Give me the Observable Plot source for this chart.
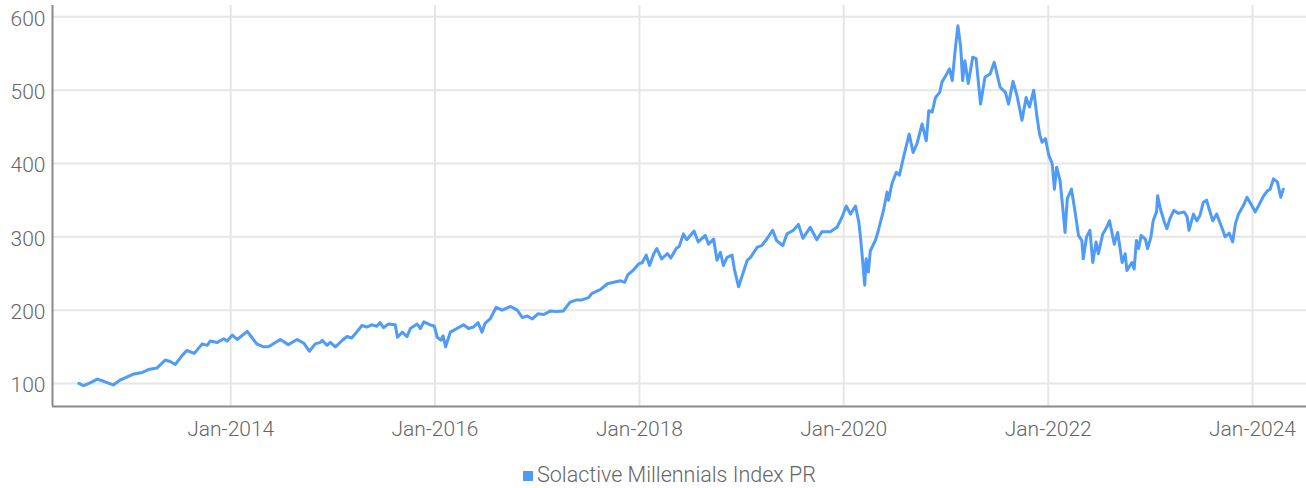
<!DOCTYPE html>
<html>
<head>
<meta charset="utf-8">
<script src="https://cdn.jsdelivr.net/npm/d3@7"></script>
<script src="https://cdn.jsdelivr.net/npm/@observablehq/plot@0.6"></script>
<style>
  html, body { margin: 0; padding: 0; background: #fff; }
  #wrap { position: relative; width: 1306px; height: 488px; font-family: Roboto, "Noto Sans", sans-serif; }
  #chart svg text { font-weight: 300; fill: #666; }
  #legend { position: absolute; left: 523px; top: 462px; display: flex; align-items: center; font-size: 21.5px; font-weight: 300; color: #666; white-space: nowrap; }
  #legend .sw { width: 10px; height: 10px; background: #4f9bf7; margin-right: 4px; margin-top: 2px; }
</style>
</head>
<body>
<div id="wrap">
  <div id="chart"></div>
  <div id="legend"><span class="sw"></span><span>Solactive Millennials Index PR</span></div>
</div>
<script>
const seriesName = "Solactive Millennials Index PR";
const yTicks = [100, 200, 300, 400, 500, 600];
const xTicks = ["2014-01-01", "2016-01-01", "2018-01-01", "2020-01-01", "2022-01-01", "2024-01-01"];
const xDomain = ["2012-04-04", "2024-07-12"];
const yDomain = [68.6, 615.5];

const dates = [
"2012-07-07","2012-07-24","2012-08-12","2012-09-11","2012-10-04","2012-11-07","2012-12-03","2012-12-21",
"2013-01-20","2013-02-19","2013-03-13","2013-04-12","2013-05-12","2013-05-29","2013-06-17","2013-07-11",
"2013-07-28","2013-08-24","2013-09-21","2013-10-09","2013-10-20","2013-11-14","2013-12-07","2013-12-19",
"2014-01-07","2014-01-24","2014-03-01","2014-03-17","2014-04-04","2014-04-28","2014-05-16","2014-06-27",
"2014-07-26","2014-08-26","2014-09-19","2014-10-09","2014-10-30","2014-11-18","2014-11-24","2014-12-11",
"2014-12-23","2015-01-10","2015-02-04","2015-02-21","2015-03-09","2015-03-27","2015-04-15","2015-05-02",
"2015-05-20","2015-06-07","2015-06-19","2015-07-01","2015-07-18","2015-08-12","2015-08-20","2015-09-06",
"2015-09-23","2015-10-05","2015-10-29","2015-11-10","2015-11-22","2015-12-15","2015-12-30","2016-01-09",
"2016-01-23","2016-01-30","2016-02-08","2016-02-25","2016-03-19","2016-04-12","2016-04-30","2016-05-18",
"2016-06-03","2016-06-17","2016-06-28","2016-07-16","2016-08-07","2016-08-28","2016-09-27","2016-10-21",
"2016-11-08","2016-11-26","2016-12-14","2017-01-03","2017-01-24","2017-02-17","2017-03-11","2017-04-04",
"2017-04-28","2017-05-22","2017-06-09","2017-07-03","2017-07-15","2017-08-14","2017-09-08","2017-10-01",
"2017-10-25","2017-11-09","2017-11-20","2017-12-11","2017-12-29","2018-01-11","2018-01-25","2018-02-06",
"2018-02-21","2018-03-04","2018-03-21","2018-04-11","2018-04-23","2018-05-12","2018-05-23","2018-06-07",
"2018-06-19","2018-07-15","2018-07-30","2018-08-24","2018-09-05","2018-09-23","2018-10-05","2018-10-17",
"2018-10-28","2018-11-10","2018-11-28","2018-12-06","2018-12-21","2019-01-03","2019-01-21","2019-02-02",
"2019-02-26","2019-03-14","2019-04-01","2019-04-22","2019-05-06","2019-05-28","2019-06-12","2019-07-05",
"2019-07-23","2019-08-08","2019-09-03","2019-09-27","2019-10-15","2019-11-14","2019-12-08","2019-12-26",
"2020-01-10","2020-01-25","2020-02-12","2020-02-24","2020-03-02","2020-03-09","2020-03-16","2020-03-21",
"2020-03-29","2020-04-05","2020-04-23","2020-05-04","2020-05-22","2020-06-04","2020-06-09","2020-06-21",
"2020-07-07","2020-07-18","2020-08-02","2020-08-22","2020-09-05","2020-09-19","2020-10-07","2020-10-22",
"2020-10-31","2020-11-12","2020-11-24","2020-12-09","2020-12-17","2021-01-03","2021-01-13","2021-01-23",
"2021-02-01","2021-02-12","2021-02-22","2021-03-01","2021-03-09","2021-03-21","2021-04-06","2021-04-18",
"2021-05-04","2021-05-20","2021-06-07","2021-06-22","2021-07-13","2021-08-01","2021-08-12","2021-08-28",
"2021-09-11","2021-09-29","2021-10-14","2021-10-26","2021-11-10","2021-11-22","2021-12-01","2021-12-10",
"2021-12-22","2022-01-03","2022-01-15","2022-01-23","2022-01-31","2022-02-12","2022-02-20","2022-03-02",
"2022-03-10","2022-03-25","2022-04-07","2022-04-19","2022-05-01","2022-05-06","2022-05-18","2022-05-30",
"2022-06-09","2022-06-21","2022-06-29","2022-07-15","2022-07-29","2022-08-08","2022-08-25","2022-09-06",
"2022-09-16","2022-09-22","2022-10-03","2022-10-09","2022-10-27","2022-11-04","2022-11-12","2022-11-20",
"2022-11-29","2022-12-14","2022-12-22","2023-01-03","2023-01-11","2023-01-23","2023-01-27","2023-02-06",
"2023-02-20","2023-03-01","2023-03-12","2023-03-26","2023-04-11","2023-05-01","2023-05-12","2023-05-19",
"2023-06-04","2023-06-16","2023-06-27","2023-07-09","2023-07-21","2023-07-30","2023-08-12","2023-08-26",
"2023-09-13","2023-09-25","2023-10-10","2023-10-22","2023-11-01","2023-11-12","2023-11-30","2023-12-12",
"2023-12-26","2024-01-11","2024-01-26","2024-02-10","2024-02-24","2024-03-04","2024-03-16","2024-03-30",
"2024-04-11","2024-04-20"
];
const values = [
100,97,100,106,103,98,105,108,
113,115,119,121,132,130,126,138,
145,141,154,152,158,156,161,158,
166,160,171,163,154,150,150,160,
153,160,155,144,154,156,159,152,
156,150,159,164,162,170,179,177,
180,178,183,176,181,180,163,170,
164,175,181,175,184,180,178,163,
159,165,150,170,175,180,175,177,
183,170,182,188,204,200,205,200,
190,192,188,195,194,199,198,199,
211,214,214,217,223,228,236,238,
240,238,248,255,263,265,275,261,
277,284,270,277,271,284,287,304,
296,308,293,302,290,297,268,279,
261,272,275,256,232,247,268,272,
286,288,297,309,295,288,304,309,
317,298,313,296,307,307,313,327,
342,331,342,320,295,265,234,270,
252,281,295,309,336,361,350,372,
388,384,409,440,415,427,454,431,
472,470,490,497,511,522,529,513,
550,588,559,513,540,509,545,543,
481,518,522,538,504,497,481,512,
493,459,490,477,500,463,440,429,
434,411,400,365,395,377,347,306,
352,365,334,302,295,270,300,309,
265,293,277,304,313,322,290,306,
281,265,277,254,265,256,295,284,
302,297,284,300,322,334,356,338,
320,311,325,336,332,334,328,309,
331,322,329,347,350,338,322,331,
313,300,305,293,318,331,343,354,
345,334,345,356,363,365,379,375,
354,365
];

const data = dates.map((d, i) => ({date: new Date(d), value: values[i], series: seriesName}));
const tickDates = xTicks.map(d => new Date(d));
const x0 = new Date(xDomain[0]);

const chart = Plot.plot({
  width: 1306,
  height: 452,
  marginLeft: 52,
  marginRight: 0,
  marginTop: 5,
  marginBottom: 46,
  style: {fontFamily: "Roboto, 'Noto Sans', sans-serif", fontSize: "21px", background: "white", color: "#666", overflow: "visible"},
  x: {type: "utc", domain: xDomain.map(d => new Date(d))},
  y: {domain: yDomain},
  marks: [
    Plot.ruleY(yTicks, {stroke: "#e6e6e6", strokeWidth: 2}),
    Plot.ruleX(tickDates, {stroke: "#e6e6e6", strokeWidth: 2}),
    Plot.ruleX([x0], {stroke: "#8a8a8a", strokeWidth: 2}),
    Plot.ruleY([yDomain[0]], {stroke: "#8a8a8a", strokeWidth: 2}),
    Plot.lineY(data, {x: "date", y: "value", stroke: "#4f9bf7", strokeWidth: 3, curve: "linear"}),
    Plot.axisY({ticks: yTicks, tickSize: 0, tickPadding: 7, dy: 2, label: null, tickFormat: d => String(d)}),
    Plot.axisX({ticks: tickDates, tickSize: 0, tickPadding: 15, label: null, tickFormat: d3.utcFormat("%b-%Y")})
  ]
});
document.getElementById("chart").appendChild(chart);
</script>
</body>
</html>
